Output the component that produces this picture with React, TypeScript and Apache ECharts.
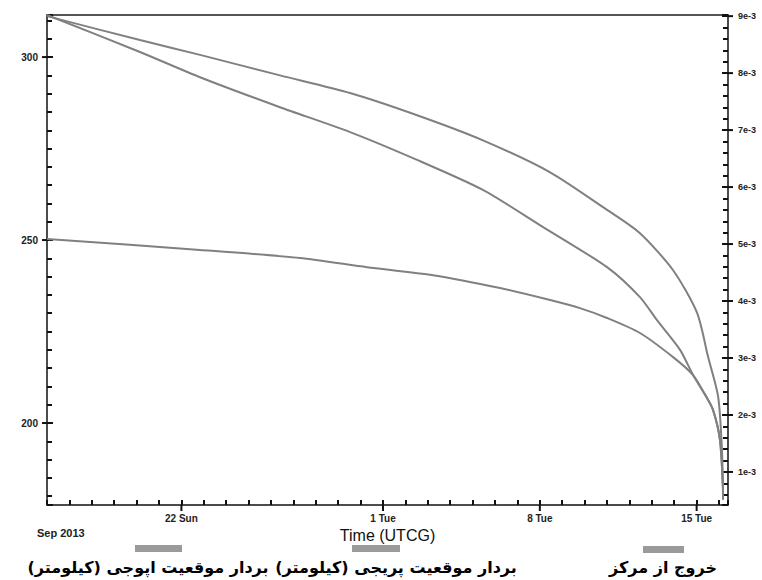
import React, { useEffect, useRef } from 'react';
import * as echarts from 'echarts';

// x values: days since 16 Sep 2013 00:00 UTCG
const xMin = 0;
const xMax = 30.4;
const xTickDays = [6, 15, 22, 29];
const xTickLabels = ['22 Sun', '1 Tue', '8 Tue', '15 Tue'];

const leftMin = 177.6;
const leftMax = 311.5;
const leftTickValues = [200, 250, 300];

const rightMin = 0.00042;
const rightMax = 0.00902;
const rightTickValues = [0.001, 0.002, 0.003, 0.004, 0.005, 0.006, 0.007, 0.008, 0.009];

// Apogee position vector (km) — [day, km]
const apogee = [
  [0, 311.5], [4.15, 301.4], [6.83, 294.5], [10.4, 286.3], [13.53, 279.5],
  [16.52, 271.9], [19.46, 263.7], [22.0, 254.1], [25.0, 242.6], [26.47, 234.4],
  [27.23, 228.1], [28.26, 220.0], [28.84, 213.1], [29.38, 207.7], [29.73, 203.6],
  [30.04, 195.4], [30.18, 181.7],
];

// Perigee position vector (km) — [day, km]
const perigee = [
  [0, 250.3], [6.83, 247.3], [11.29, 245.1], [14.29, 242.6], [17.23, 240.4],
  [20.22, 236.9], [22.46, 233.6], [23.79, 231.4], [25.0, 228.7], [26.47, 224.6],
  [27.95, 218.0], [28.84, 213.1], [29.38, 207.7], [29.73, 203.6], [30.04, 195.4],
  [30.18, 181.7],
];

// Eccentricity — [day, e]
const eccentricity = [
  [0, 0.0090], [4.15, 0.00858], [6.83, 0.00832], [10.4, 0.00796], [13.53, 0.00765],
  [16.52, 0.00726], [19.46, 0.00682], [22.46, 0.00626], [25.0, 0.0056], [26.47, 0.00519],
  [27.95, 0.00454], [29.02, 0.00379], [29.51, 0.00302], [29.96, 0.00232], [30.13, 0.00139],
  [30.18, 0.00051],
];

const legendApogee = '\u200Fبردار موقعیت اپوجی (کیلومتر)\u200F';
const legendPerigee = '\u200Fبردار موقعیت پریجی (کیلومتر)\u200F';
const legendEcc = '\u200Fخروج از مرکز\u200F';

const axisColor = '#111';
const lineColor = '#808080';
const labelFont = { fontSize: 10, fontWeight: 'bold' as const, color: '#222', fontFamily: 'Liberation Sans, Arial, sans-serif' };

const isMultiple = (v: number, step: number) => Math.abs(v / step - Math.round(v / step)) < 1e-6;

export default function App() {
  const ref = useRef<HTMLDivElement>(null);
  useEffect(() => {
    if (!ref.current) return;
    const chart = echarts.init(ref.current, undefined, { renderer: 'svg' });
    const tickStyle = { color: axisColor, width: 2 };
    const majorTick = (dx: number, dy: number, xAxisIndex: number, yAxisIndex: number, data: number[][]) => ({
      type: 'custom', xAxisIndex, yAxisIndex, data, clip: false, silent: true, z: 5,
      renderItem: (_p: any, api: any) => {
        const pt = api.coord([api.value(0), api.value(1)]);
        return {
          type: 'line',
          shape: { x1: pt[0], y1: pt[1], x2: pt[0] + dx, y2: pt[1] + dy },
          style: { stroke: axisColor, lineWidth: 2 },
        };
      },
    });
    chart.setOption({
      animation: false,
      backgroundColor: '#fff',
      grid: { left: 47, right: 34, top: 15, bottom: 75 },
      xAxis: [
        {
          type: 'value', min: xMin, max: xMax, interval: 1, position: 'bottom',
          axisLine: { show: true, onZero: false, lineStyle: { color: axisColor, width: 1.5 } },
          axisTick: { show: true, inside: true, length: 5, lineStyle: tickStyle },
          axisLabel: {
            show: true, margin: 8, ...labelFont, hideOverlap: false,
            formatter: (v: number) => {
              const i = xTickDays.findIndex((d) => Math.abs(d - v) < 1e-6);
              return i >= 0 ? xTickLabels[i] : '';
            },
          },
          splitLine: { show: false },
          name: 'Time (UTCG)', nameLocation: 'middle', nameGap: 22,
          nameTextStyle: { fontSize: 16, color: '#111', fontFamily: 'Liberation Sans, Arial, sans-serif' },
        },
        {
          type: 'value', min: xMin, max: xMax, position: 'top',
          axisLine: { show: true, onZero: false, lineStyle: { color: '#555', width: 2 } },
          axisTick: { show: false }, axisLabel: { show: false }, splitLine: { show: false },
        },
      ],
      yAxis: [
        {
          type: 'value', min: leftMin, max: leftMax, minInterval: 50, maxInterval: 50, position: 'left',
          axisLine: { show: true, onZero: false, lineStyle: { color: axisColor, width: 1.5 } },
          axisTick: { show: true, inside: true, length: 6, lineStyle: tickStyle },
          minorTick: { show: true, splitNumber: 10, length: 5, lineStyle: tickStyle },
          axisLabel: {
            show: true, margin: 9, ...labelFont,
            formatter: (v: number) => (leftTickValues.some((t) => Math.abs(t - v) < 1e-6) ? String(v) : ''),
          },
          splitLine: { show: false },
        },
        {
          type: 'value', min: rightMin, max: rightMax, minInterval: 0.001, maxInterval: 0.001, position: 'right',
          axisLine: { show: true, onZero: false, lineStyle: { color: axisColor, width: 1.5 } },
          axisTick: { show: true, inside: true, length: 6, lineStyle: tickStyle },
          minorTick: { show: true, splitNumber: 5, length: 5, lineStyle: tickStyle },
          axisLabel: {
            show: true, margin: 10, ...labelFont, fontSize: 9,
            formatter: (v: number) => (isMultiple(v, 0.001) && v > 0 ? `${Math.round(v * 1000)}e-3` : ''),
          },
          splitLine: { show: false },
        },
      ],
      series: [
        {
          name: legendApogee, type: 'line', xAxisIndex: 0, yAxisIndex: 0, data: apogee,
          showSymbol: false, smooth: 0.25,
          lineStyle: { color: lineColor, width: 2 }, itemStyle: { color: lineColor },
        },
        {
          name: legendPerigee, type: 'line', xAxisIndex: 0, yAxisIndex: 0, data: perigee,
          showSymbol: false, smooth: 0.25,
          lineStyle: { color: lineColor, width: 2 }, itemStyle: { color: lineColor },
        },
        {
          name: legendEcc, type: 'line', xAxisIndex: 0, yAxisIndex: 1, data: eccentricity,
          showSymbol: false, smooth: 0.25,
          lineStyle: { color: lineColor, width: 2 }, itemStyle: { color: lineColor },
        },
        majorTick(0, 6, 0, 0, xTickDays.map((d) => [d, leftMin])),
        majorTick(-5, 0, 0, 0, leftTickValues.map((v) => [xMin, v])),
        majorTick(5, 0, 0, 1, rightTickValues.map((v) => [xMax, v])),
      ],
      graphic: [
        {
          type: 'text', left: 37, top: 527,
          style: { text: 'Sep 2013', fontSize: 11, fontWeight: 'bold', fill: '#222', fontFamily: 'Liberation Sans, Arial, sans-serif' },
        },
        { type: 'rect', shape: { x: 135, y: 545, width: 47, height: 7 }, style: { fill: '#9a9a9a' } },
        { type: 'rect', shape: { x: 352, y: 545, width: 48, height: 7 }, style: { fill: '#9a9a9a' } },
        { type: 'rect', shape: { x: 643, y: 546, width: 41, height: 7 }, style: { fill: '#9a9a9a' } },
        {
          type: 'text', x: 148, y: 567,
          style: { text: legendApogee, fontSize: 16, fontWeight: 'bold', fill: '#000', fontFamily: 'DejaVu Sans, sans-serif', align: 'center', verticalAlign: 'middle' },
        },
        {
          type: 'text', x: 396, y: 567,
          style: { text: legendPerigee, fontSize: 16, fontWeight: 'bold', fill: '#000', fontFamily: 'DejaVu Sans, sans-serif', align: 'center', verticalAlign: 'middle' },
        },
        {
          type: 'text', x: 663, y: 567,
          style: { text: legendEcc, fontSize: 16, fontWeight: 'bold', fill: '#000', fontFamily: 'DejaVu Sans, sans-serif', align: 'center', verticalAlign: 'middle' },
        },
      ],
    });
    return () => chart.dispose();
  }, []);
  return <div ref={ref} style={{ position: 'absolute', left: 0, top: 0, width: 762, height: 580 }} />;
}
